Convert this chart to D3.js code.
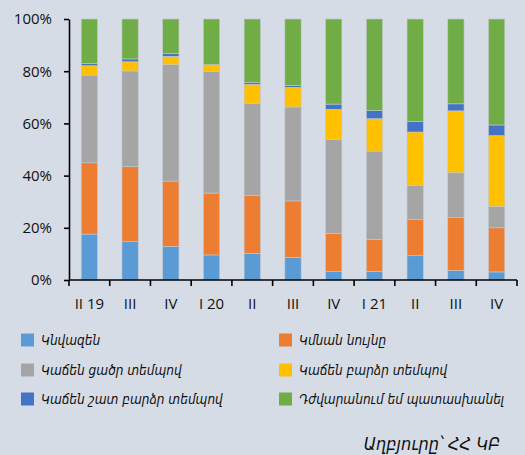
<!DOCTYPE html>
<html><head><meta charset="utf-8">
<script src="https://cdn.jsdelivr.net/npm/d3@7"></script>
<style>
html,body{margin:0;padding:0;background:#d6dce5;}
svg{display:block;}
</style></head>
<body>
<script>
const categories = ["II 19","III","IV","I 20","II","III","IV","I 21","II","III","IV"];
const seriesNames = ["Կնվազեն","Կմնան նույնը","Կաճեն ցածր տեմպով","Կաճեն բարձր տեմպով","Կաճեն շատ բարձր տեմպով","Դժվարանում եմ պատասխանել"];
const seriesColors = ["#5b9bd5","#ed7d31","#a5a5a5","#ffc000","#4472c4","#70ad47"];
const decrease      = [17.6,14.7,12.9, 9.6,10.2, 8.7, 3.2, 3.3, 9.3, 3.6, 3.1];
const same          = [27.3,28.7,25.0,23.7,22.1,21.6,14.7,12.3,13.8,20.3,16.9];
const lowGrowth     = [33.6,36.7,44.6,46.5,35.4,36.0,35.9,33.8,13.2,17.2, 8.1];
const highGrowth    = [ 3.6, 3.5, 3.2, 2.5, 7.3, 7.5,11.6,12.4,20.4,23.7,27.2];
const veryHigh      = [ 0.8, 1.1, 1.0, 0.2, 0.6, 0.8, 2.0, 3.1, 4.0, 2.7, 4.1];
const hardToSay     = [17.1,15.3,13.3,17.5,24.4,25.4,32.6,35.1,39.3,32.5,40.6];
const yTicks = [0,20,40,60,80,100];
const sourceText = "Աղբյուրը՝ ՀՀ ԿԲ";

(function(){
const seriesValues = [decrease,same,lowGrowth,highGrowth,veryHigh,hardToSay];
const W = 525, H = 455;
const armFont = "'DejaVu Sans Condensed', 'DejaVu Sans', sans-serif";
const svg = d3.select("body").append("svg").attr("width",W).attr("height",H);
svg.append("rect").attr("width",W).attr("height",H).attr("fill","#d6dce5");

const mLeft = 69, mRight = 517, mTop = 19, mBottom = 280;
const x = d3.scaleBand().domain(d3.range(categories.length)).range([mLeft,mRight]).paddingInner(0.6).paddingOuter(0.3);
const y = d3.scaleLinear().domain([0,100]).range([mBottom,mTop]);

const rows = categories.map((c,i)=>{ const o={i}; seriesValues.forEach((s,k)=>o["s"+k]=s[i]); return o; });
const stack = d3.stack().keys(seriesValues.map((_,k)=>"s"+k));
const layers = stack(rows);

svg.append("g").selectAll("g").data(layers).join("g")
  .attr("fill",(d,k)=>seriesColors[k])
  .selectAll("rect").data(d=>d).join("rect")
  .attr("x",d=>x(d.data.i))
  .attr("width",x.bandwidth())
  .attr("y",d=>y(d[1]))
  .attr("height",d=>Math.max(0,y(d[0])-y(d[1])))
  .attr("stroke","#c4c9cf").attr("stroke-width",0.6);

// y axis
const yAxis = svg.append("g").attr("transform",`translate(${mLeft},0)`)
  .call(d3.axisLeft(y).tickValues(yTicks).tickFormat(d=>d+"%").tickSize(5).tickSizeOuter(0));
yAxis.select(".domain").attr("stroke","#000").attr("stroke-width",1.6);
yAxis.selectAll(".tick line").attr("stroke","#000").attr("stroke-width",1.6);
yAxis.selectAll(".tick text").attr("font-family","Open Sans, Liberation Sans, sans-serif").attr("font-size",15).attr("fill","#111").attr("x",-17);

// x axis
const xStep = (mRight-mLeft)/categories.length;
const xg = svg.append("g");
xg.append("line").attr("x1",mLeft).attr("x2",mRight).attr("y1",mBottom).attr("y2",mBottom).attr("stroke","#000").attr("stroke-width",1.6);
const tickPos = d3.range(categories.length+1).map(i=>mLeft+i*xStep);
xg.selectAll("line.t").data(tickPos).join("line").attr("class","t")
  .attr("x1",d=>d).attr("x2",d=>d).attr("y1",mBottom).attr("y2",mBottom+6).attr("stroke","#000").attr("stroke-width",1.6);
xg.selectAll("text").data(categories).join("text")
  .attr("x",(d,i)=>x(i)+x.bandwidth()/2).attr("y",308.5)
  .attr("text-anchor","middle").attr("font-family","Open Sans, Liberation Sans, sans-serif").attr("font-size",15).attr("fill","#111")
  .text(d=>d);

// legend
const legPos = [[21,340],[279,340],[21,370],[279,370],[21,399],[279,399]];
const lg = svg.append("g");
seriesNames.forEach((n,k)=>{
  const [lx,ly]=legPos[k];
  lg.append("rect").attr("x",lx).attr("y",ly-6.5).attr("width",13).attr("height",13).attr("fill",seriesColors[k]);
  lg.append("text").attr("x",lx+20).attr("y",ly+5).attr("font-family",armFont).attr("font-style","italic")
    .attr("font-size",13.5).attr("fill","#111").text(n);
});
svg.append("text").attr("x",500).attr("y",450).attr("text-anchor","end").attr("font-family",armFont)
  .attr("font-style","italic").attr("font-size",18).attr("fill","#111").text(sourceText);
})();
</script>
</body></html>
